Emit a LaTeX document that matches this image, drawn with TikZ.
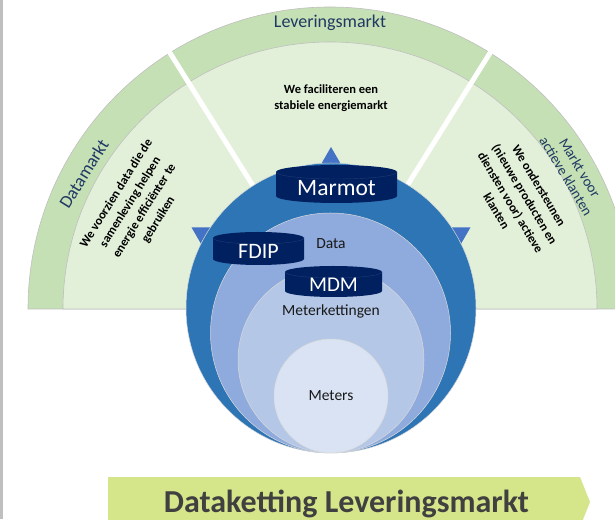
\documentclass[tikz,border=0pt]{standalone}
\usepackage{fontspec}
\setmainfont{Carlito}
\definecolor{bandgreen}{HTML}{C5E0B4}
\definecolor{sectgreen}{HTML}{E2F0D9}
\definecolor{blueA}{HTML}{2E75B6}
\definecolor{blueB}{HTML}{8FAADC}
\definecolor{blueC}{HTML}{B4C7E7}
\definecolor{blueD}{HTML}{DAE3F3}
\definecolor{navy}{HTML}{002060}
\definecolor{tri}{HTML}{4472C4}
\definecolor{labelblue}{HTML}{1F3864}
\definecolor{bannerfill}{HTML}{D5E68A}
\definecolor{bannertext}{HTML}{404040}
\newcommand\navycyl[5]{%
  \fill[navy] (#1-#4,#2) arc[start angle=180,end angle=0,x radius=#4,y radius=#5]
    -- (#1+#4,#3) arc[start angle=0,end angle=-180,x radius=#4,y radius=#5] -- cycle;
  \draw[lidline] (#1-#4,#2) arc[start angle=180,end angle=360,x radius=#4,y radius=#5];}
\begin{document}
\begin{tikzpicture}[x=1pt,y=1pt,
  lidline/.style={draw=navy!88!white,line width=0.4pt},
  greenedge/.style={draw=black!25,line width=0.6pt},
  ring/.style={circle,inner sep=0pt,draw=black!15,line width=0.5pt},
  bandlabel/.style={text=labelblue,font=\fontsize{18}{20}\selectfont,align=center},
  sectortext/.style={font=\bfseries\fontsize{12.5}{16.5}\selectfont,align=center,text=black},
  cyltext/.style={text=white,anchor=base},
  innertext/.style={font=\fontsize{15.5}{18}\selectfont,anchor=base,text=black!90}]
\useasboundingbox (0,0) rectangle (615,519);
\clip (0,0) rectangle (615,519);
\coordinate (O) at (330,210);
\coordinate (C) at (331,211);
% left border
\fill[black!25] (0,0) rectangle (2.5,519);
% semicircle bands
\filldraw[fill=bandgreen,greenedge] (28,210) arc[start angle=180,end angle=0,radius=302] -- cycle;
\filldraw[fill=sectgreen,greenedge] (63,210) arc[start angle=180,end angle=0,radius=267] -- cycle;
% white separators
\draw[white,line width=5pt] (O) -- ([shift={(58:310)}]O);
\draw[white,line width=5pt] (O) -- ([shift={(122:310)}]O);
% triangles (partly hidden by the outer circle)
\foreach \t in {30,90,150}
  \fill[tri] ([shift={(\t:161)}]C) -- ++(\t+150:28) -- ++(\t+270:28) -- cycle;
% nested circles
\node[ring,fill=blueA,minimum size=290pt] (c1) at (331,211) {};
\node[ring,fill=blueB,minimum size=240pt] (c2) at (330.5,186) {};
\node[ring,fill=blueC,minimum size=186pt] (c3) at (331,159) {};
\node[ring,fill=blueD,minimum size=114pt] (c4) at (331,123) {};
% cylinders
\navycyl{336.5}{347}{323}{60.5}{7}
\navycyl{258.5}{281}{260}{45.5}{6}
\navycyl{333.5}{247}{228}{48.5}{6}
\node[cyltext,font=\fontsize{23.5}{26}\selectfont] (marmot) at (336.5,323) {Marmot};
\node[cyltext,font=\fontsize{22}{24}\selectfont] (fdip) at (258.5,260) {FDIP};
\node[cyltext,font=\fontsize{21}{24}\selectfont] (mdm) at (333.5,227) {MDM};
% inner texts
\node[innertext] (data) at (331,270) {Data};
\node[innertext] (meterk) at (331,203) {Meterkettingen};
\node[innertext] (meters) at (331,118) {Meters};
% sector texts
\node[sectortext,anchor=base] (top1) at (331,425) {We faciliteren een};
\node[sectortext,anchor=base] (top2) at (331,409) {stabiele energiemarkt};
\node[sectortext,rotate=58] (lefttext) at ([shift={(152:218)}]O)
  {We voorzien data die de\\samenleving helpen\\energie efficiënter te\\gebruiken};
\node[sectortext,rotate=-59] (righttext) at ([shift={(30.5:218)}]O)
  {We ondersteunen\\(nieuwe producten en\\diensten voor) actieve\\klanten};
% band labels
\node[bandlabel] (lever) at ([shift={(90:286)}]O) {Leveringsmarkt};
\node[bandlabel,rotate=58] (datam) at ([shift={(151.2:281)}]O) {Datamarkt};
\node[bandlabel,rotate=-59,font=\fontsize{14.5}{16}\selectfont] (actief) at ([shift={(29.4:279)}]O) {Markt voor\\actieve klanten};
% banner
\fill[bannerfill] (108,42) -- (580,42) -- (590,17) -- (580,-8) -- (108,-8) -- cycle;
\node[anchor=base,text=bannertext,font=\bfseries\fontsize{32}{36}\selectfont] (banner) at (346.5,7) {Dataketting Leveringsmarkt};
\end{tikzpicture}
\end{document}
